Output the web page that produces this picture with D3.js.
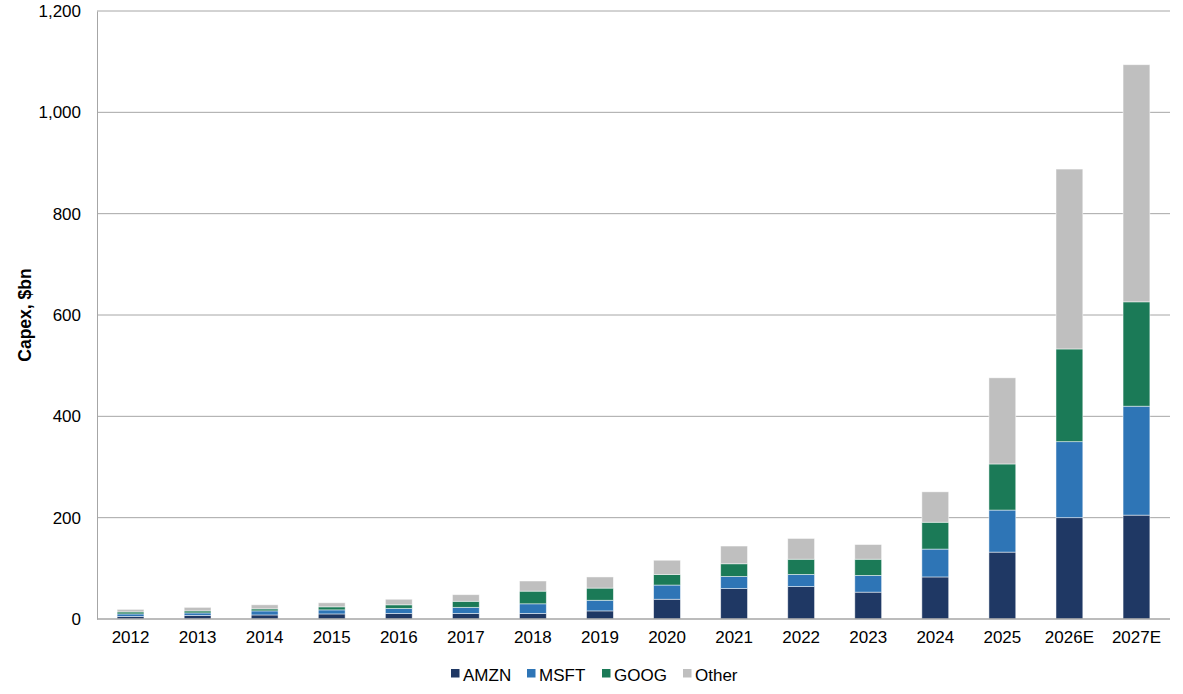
<!DOCTYPE html>
<html><head><meta charset="utf-8">
<script src="https://cdn.jsdelivr.net/npm/d3@7/dist/d3.min.js"></script>
<style>body{margin:0;background:#fff;}svg{display:block;font-family:"Liberation Sans",Arial,sans-serif;}</style>
</head><body><svg id="c" width="1183" height="694"></svg>
<script>
const categories = ["2012","2013","2014","2015","2016","2017","2018","2019","2020","2021","2022","2023","2024","2025","2026E","2027E"];
const seriesNames = ["AMZN","MSFT","GOOG","Other"];
const amzn  = [5, 7, 8, 10, 11, 11, 11, 16, 39, 60, 64, 53, 83, 132, 200, 205];
const msft  = [5, 5, 8, 8, 10, 12, 19, 21, 28, 24, 24, 33, 55, 83, 150, 215];
const goog  = [4, 4, 4, 6, 7, 12, 25, 24, 21, 25, 30, 32, 53, 91, 183, 206];
const other = [5, 7, 8, 8, 11, 13, 20, 22, 28, 35, 41, 29, 60, 170, 355, 468];
const yTicks = [0,200,400,600,800,1000,1200];
const colors = ["#1f3864","#2e75b6","#1b7a57","#bfbfbf"];

const svg = d3.select("#c");
const m = {l:97, r:1170, t:11, b:619};
const x = d3.scaleBand().domain(categories).range([m.l, m.r]).paddingInner(0.6).paddingOuter(0.3);
const y = d3.scaleLinear().domain([0,1200]).range([m.b, m.t]);

const table = categories.map((c,i)=>({cat:c, AMZN:amzn[i], MSFT:msft[i], GOOG:goog[i], Other:other[i]}));
const stacked = d3.stack().keys(seriesNames)(table);

// gridlines
svg.append("g").selectAll("line").data(yTicks.filter(d=>d>0)).join("line")
  .attr("x1",m.l).attr("x2",m.r).attr("y1",d=>y(d)).attr("y2",d=>y(d))
  .attr("stroke","#a6a6a6").attr("stroke-width",1);

// y axis
const ya = svg.append("g").attr("transform",`translate(${m.l},0)`)
  .call(d3.axisLeft(y).tickValues(yTicks).tickSize(0).tickPadding(16).tickFormat(d3.format(",")));
ya.select(".domain").attr("stroke","#a6a6a6");
ya.selectAll("text").attr("font-size",17).attr("fill","#000").attr("font-family","Liberation Sans, Arial, sans-serif");

// bars
svg.append("g").selectAll("g").data(stacked).join("g")
  .attr("fill",(d,i)=>colors[i])
  .selectAll("rect").data(d=>d).join("rect")
  .attr("x",d=>x(d.data.cat)).attr("width",x.bandwidth())
  .attr("y",d=>y(d[1])).attr("height",d=>y(d[0])-y(d[1]))
  .attr("stroke","rgba(255,255,255,0.6)").attr("stroke-width",0.8);

// x axis
const xa = svg.append("g").attr("transform",`translate(0,${m.b})`)
  .call(d3.axisBottom(x).tickSize(0).tickPadding(12));
xa.select(".domain").attr("stroke","#a6a6a6").attr("stroke-width",1.5).attr("d",`M${m.l},0H${m.r}`);
xa.selectAll("text").attr("font-size",17).attr("fill","#000").attr("font-family","Liberation Sans, Arial, sans-serif");

// y title
svg.append("text").attr("transform",`translate(31,${(m.t+m.b)/2}) rotate(-90)`)
  .attr("text-anchor","middle").attr("font-size",17.5).attr("font-weight","bold").text("Capex, $bn");

// legend
const legX = [451, 527, 602, 683];
const lg = svg.append("g").selectAll("g").data(seriesNames).join("g")
  .attr("transform",(d,i)=>`translate(${legX[i]},675)`);
lg.append("rect").attr("x",0).attr("y",-6).attr("width",8.5).attr("height",8.5).attr("fill",(d,i)=>colors[i]);
lg.append("text").attr("x",12).attr("y",5.5).attr("font-size",17).text(d=>d);
</script></body></html>
